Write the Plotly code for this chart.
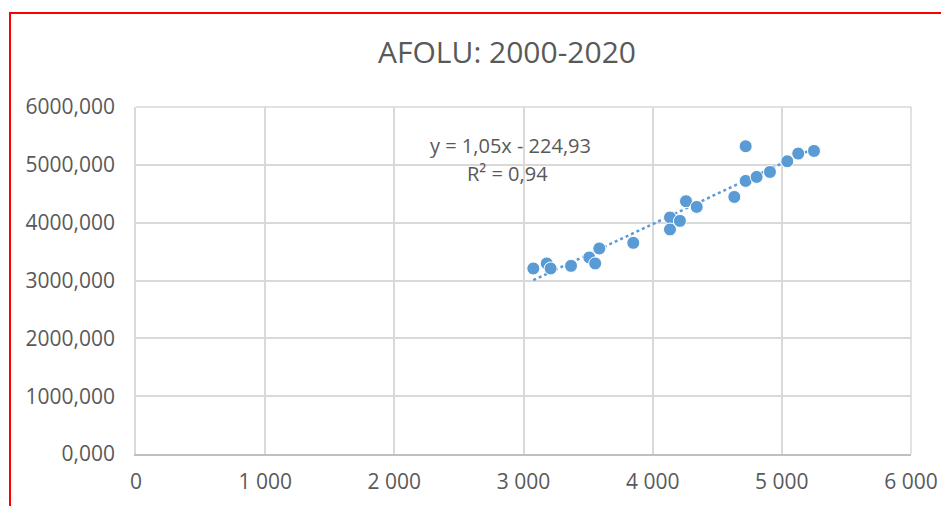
import plotly.graph_objects as go

# Data (2000-2020)
x_vals = [3076, 3180, 3210, 3368, 3509, 3555, 3587, 3850, 4134, 4134, 4211,
          4258, 4341, 4632, 4720, 4720, 4805, 4908, 5042, 5127, 5249]
y_vals = [3208, 3295, 3208, 3253, 3398, 3295, 3554, 3651, 4090, 3882, 4031,
          4371, 4273, 4445, 5321, 4722, 4791, 4877, 5062, 5195, 5240]

trend_slope = 1.05
trend_intercept = -224.93
trend_label = "y = 1,05x - 224,93"
r2_label = "R² = 0,94"

x_tickvals = [0, 1000, 2000, 3000, 4000, 5000, 6000]
x_ticktext = ["0", "1 000", "2 000", "3 000", "4 000", "5 000", "6 000"]
y_tickvals = [0, 1000, 2000, 3000, 4000, 5000, 6000]
y_ticktext = ["0,000", "1000,000", "2000,000", "3000,000", "4000,000", "5000,000", "6000,000"]

title_text = "AFOLU: 2000-2020"

BLUE = "#5B9BD5"
GRID = "#D9D9D9"
TXT = "#595959"
FONT = "Open Sans"

tx = [min(x_vals), max(x_vals)]
ty = [trend_slope * v + trend_intercept for v in tx]

fig = go.Figure()
fig.add_trace(go.Scatter(x=tx, y=ty, mode="lines",
                         line=dict(color=BLUE, width=2.5, dash="dot"),
                         hoverinfo="skip", showlegend=False))
fig.add_trace(go.Scatter(x=x_vals, y=y_vals, mode="markers",
                         marker=dict(color=BLUE, size=13, line=dict(color="white", width=1)),
                         showlegend=False))

OFF = 8  # page body margin
W, H = 949 - OFF, 506 - OFF
L, R, T, B = 136 - OFF, W - (911 - OFF), 107 - OFF, H - (454 - OFF)
pw, ph = W - L - R, H - T - B

def px2paper_x(px):
    return (px - OFF - L) / pw

def px2paper_y(py):
    return (H - B - (py - OFF)) / ph

fig.add_shape(type="rect", xref="paper", yref="paper",
              x0=px2paper_x(10), x1=px2paper_x(948),
              y0=px2paper_y(530), y1=px2paper_y(13),
              line=dict(color="#FF0000", width=2), layer="below")

fig.add_annotation(text=trend_label, xref="paper", yref="paper",
                   x=px2paper_x(510), y=px2paper_y(130), showarrow=False,
                   font=dict(family=FONT, size=20, color=TXT))
fig.add_annotation(text=r2_label, xref="paper", yref="paper",
                   x=px2paper_x(507), y=px2paper_y(158), showarrow=False,
                   font=dict(family=FONT, size=20, color=TXT))

fig.update_layout(
    width=W, height=H,
    margin=dict(l=L, r=R, t=T, b=B),
    paper_bgcolor="white", plot_bgcolor="white",
    title=dict(text=title_text, x=(507 - OFF) / W, xanchor="center",
               y=1 - (52 - OFF) / H, yanchor="middle",
               font=dict(family=FONT, size=30, color=TXT)),
    font=dict(family=FONT, color=TXT),
)
fig.update_xaxes(range=[0, 6000], tickvals=x_tickvals, ticktext=x_ticktext,
                 showgrid=True, gridcolor=GRID, gridwidth=1.5,
                 showline=True, linecolor="#BFBFBF", linewidth=1.5, mirror=False,
                 zeroline=False, ticks="outside", ticklen=8, tickcolor="rgba(0,0,0,0)",
                 tickfont=dict(family=FONT, size=21, color=TXT))
fig.update_yaxes(range=[0, 6000], tickvals=y_tickvals, ticktext=y_ticktext,
                 showgrid=True, gridcolor=GRID, gridwidth=1.5,
                 showline=True, linecolor=GRID, linewidth=1.5, mirror=False,
                 zeroline=False, ticks="outside", ticklen=15, tickcolor="rgba(0,0,0,0)",
                 tickfont=dict(family=FONT, size=21, color=TXT))
fig.add_shape(type="line", xref="paper", yref="paper", x0=1, x1=1, y0=0, y1=1,
              line=dict(color=GRID, width=1.5))
fig.add_shape(type="line", xref="paper", yref="paper", x0=0, x1=1, y0=1, y1=1,
              line=dict(color=GRID, width=1.5))

fig.write_html("out.html")
